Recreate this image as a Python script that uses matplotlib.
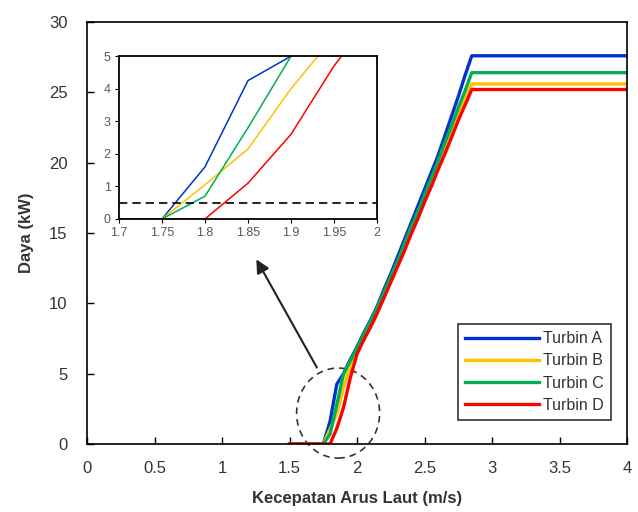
import matplotlib.pyplot as plt
from matplotlib.patches import Ellipse

# kecepatan arus laut (m/s)
speed = [1.5, 1.55, 1.6, 1.65, 1.7, 1.75, 1.8, 1.85, 1.9, 1.95, 2.0, 2.05, 2.1, 2.15,
         2.2, 2.25, 2.3, 2.35, 2.4, 2.45, 2.5, 2.55, 2.6, 2.65, 2.7, 2.75, 2.8, 2.85, 4.0]

# daya (kW)
turbin_a = [0, 0, 0, 0, 0, 0, 1.6, 4.25, 5.0, 6.0, 6.9, 7.9, 8.8, 9.8, 11.0, 12.1, 13.3,
            14.5, 15.7, 16.9, 18.1, 19.3, 20.5, 21.9, 23.3, 24.7, 26.2, 27.6, 27.6]
turbin_b = [0, 0, 0, 0, 0, 0, 1.05, 2.15, 4.0, 5.6, 6.7, 7.6, 8.5, 9.5, 10.6, 11.7, 12.8,
            14.0, 15.1, 16.3, 17.4, 18.6, 19.8, 21.0, 22.2, 23.4, 24.5, 25.6, 25.6]
turbin_c = [0, 0, 0, 0, 0, 0, 0.7, 2.8, 5.0, 5.9, 6.8, 7.8, 8.7, 9.7, 10.8, 11.9, 13.0,
            14.2, 15.4, 16.5, 17.7, 18.9, 20.1, 21.4, 22.6, 23.9, 25.1, 26.4, 26.4]
turbin_d = [0, 0, 0, 0, 0, 0, 0, 1.1, 2.6, 4.7, 6.4, 7.4, 8.3, 9.3, 10.4, 11.5, 12.6,
            13.7, 14.9, 16.0, 17.2, 18.3, 19.5, 20.6, 21.8, 23.0, 24.1, 25.2, 25.2]

labels = ["Turbin A", "Turbin B", "Turbin C", "Turbin D"]
colors = ["#0033cc", "#ffc000", "#00b050", "#ff0000"]
series = [turbin_a, turbin_b, turbin_c, turbin_d]

plt.rcParams['font.family'] = ['Liberation Sans', 'DejaVu Sans']
txt = "#333333"

fig = plt.figure(figsize=(6.38, 5.12), dpi=100)
ax = fig.add_axes([0.1364, 0.1328, 0.8464, 0.8242])

for y, c, lab in zip(series, colors, labels):
    ax.plot(speed, y, color=c, lw=2.4, label=lab, solid_joinstyle='round')

ax.set_xlim(0, 4)
ax.set_ylim(0, 30)
ax.set_xticks([0, 0.5, 1, 1.5, 2, 2.5, 3, 3.5, 4])
ax.set_xticklabels(["0", "0.5", "1", "1.5", "2", "2.5", "3", "3.5", "4"])
ax.set_yticks([0, 5, 10, 15, 20, 25, 30])
ax.tick_params(direction='in', length=5, width=1, labelsize=12, colors='black',
               labelcolor=txt)
ax.tick_params(axis='x', pad=12)
ax.tick_params(axis='y', pad=14)
for s in ax.spines.values():
    s.set_linewidth(1.2)
ax.set_xlabel("Kecepatan Arus Laut (m/s)", fontsize=12, fontweight='bold', color=txt, labelpad=11)
ax.set_ylabel("Daya (kW)", fontsize=12, fontweight='bold', color=txt, labelpad=11)

leg = ax.legend(loc='lower right', bbox_to_anchor=(0.970, 0.057), borderaxespad=0,
                fancybox=False, edgecolor='black', fontsize=11.5, handlelength=4.6,
                handletextpad=0.25, labelspacing=0.45, borderpad=0.45)
leg.get_frame().set_linewidth(1.2)
for t in leg.get_texts():
    t.set_color(txt)

# lingkaran zoom dan panah
ax.add_patch(Ellipse((1.86, 2.2), 0.615, 6.4, fill=False, ls=(0, (4, 3)), lw=1.2,
                     color='#333333', clip_on=False))
ax.annotate("", xy=(1.244, 13.3), xytext=(1.713, 5.26),
            arrowprops=dict(arrowstyle='-|>', color='#222222', lw=1.5, mutation_scale=20))

# inset
ins = fig.add_axes([0.1865, 0.5723, 0.4044, 0.318])
for y, c in zip(series, colors):
    ins.plot(speed, y, color=c, lw=1.1)
ins.axhline(0.5, color='black', ls=(0, (5, 3)), lw=1.2)
ins.set_xlim(1.7, 2)
ins.set_ylim(0, 5)
ins.set_xticks([1.7, 1.75, 1.8, 1.85, 1.9, 1.95, 2])
ins.set_xticklabels(["1.7", "1.75", "1.8", "1.85", "1.9", "1.95", "2"])
ins.set_yticks([0, 1, 2, 3, 4, 5])
ins.tick_params(direction='out', length=3, labelsize=9, labelcolor='#595959', pad=3)
for s in ins.spines.values():
    s.set_linewidth(1.3)

fig.savefig("out.png", dpi=100)
